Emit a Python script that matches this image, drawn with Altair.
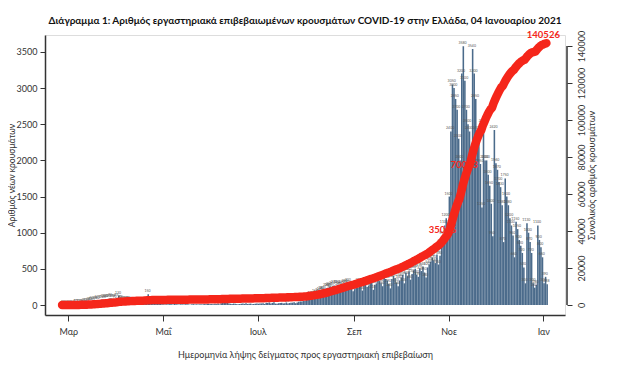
import altair as alt
import pandas as pd

# ---------------- data (daily new confirmed cases by sample date) ----------------
start_date = "2020-02-26"
feb = [1, 2, 0, 4]
mar = [2, 2, 1, 3, 8, 12, 10, 14, 16, 20, 25, 22, 30, 38, 42, 50, 45, 58, 65, 62,
       70, 75, 78, 66, 80, 82, 90, 95, 85, 78, 72]
apr = [95, 130, 70, 65, 60, 55, 50, 62, 55, 48, 40, 38, 30, 35, 40, 30, 28, 25, 22, 20,
       150, 35, 30, 25, 20, 18, 15, 18, 14, 12]
may = [10, 8, 12, 9, 14, 11, 7, 15, 10, 8, 6, 12, 9, 7, 11, 10, 8, 5, 9, 12,
       8, 10, 6, 9, 11, 7, 14, 10, 13, 16, 12]
jun = [15, 10, 18, 12, 20, 8, 25, 30, 35, 40, 28, 22, 18, 15, 20, 17, 12, 10, 15, 18,
       22, 16, 25, 15, 17, 20, 12, 14, 18, 22]
jul = [18, 20, 22, 25, 15, 30, 28, 35, 22, 30, 40, 20, 18, 25, 28, 30, 22, 25, 35, 20,
       28, 30, 33, 40, 25, 35, 45, 50, 48, 55, 60]
aug = [70, 85, 110, 120, 95, 130, 150, 140, 160, 175, 190, 200, 150, 230, 240, 255, 220, 260, 270, 180,
       280, 250, 260, 275, 200, 290, 280, 300, 250, 240, 190]
sep = [220, 260, 240, 300, 280, 200, 310, 290, 250, 270, 330, 310, 210, 280, 300, 350, 330, 300, 260, 380,
       360, 340, 290, 230, 360, 400, 370, 310, 260, 340]
oct_ = [380, 420, 300, 450, 400, 460, 350, 430, 480, 500, 420, 390, 510, 470, 530, 450, 380, 520, 560, 600,
        650, 620, 580, 700, 560, 680, 850, 950, 1100, 1200, 1000]
nov = [1500, 2400, 3050, 3000, 2850, 2700, 2300, 2000, 3200, 3580, 3100, 2700, 2500, 2400, 1900, 3540, 3200, 2850, 2400, 2300,
       1950, 1350, 2500, 2000, 2000, 1800, 1650, 1400, 950, 2420]
dec = [1960, 1870, 1700, 1630, 1380, 870, 1750, 1500, 1380, 1200, 1100, 960, 660, 1150, 1050, 900, 820, 720, 520, 300,
       1130, 1000, 870, 720, 300, 240, 280, 1100, 900, 800, 660]
jan = [300, 390, 288]

# annotations on the cumulative curve
ann_dates = ["2020-10-30", "2020-11-13", "2021-01-03"]
ann_values = [35046, 70003, 140526]
ann_labels = ["35046", "70003", "140526"]

x_ticks = [(2020, 3), (2020, 5), (2020, 7), (2020, 9), (2020, 11), (2021, 1)]
month_names = ["Ιαν", "Φεβ", "Μαρ", "Απρ", "Μαΐ", "Ιουν", "Ιουλ", "Αυγ", "Σεπ", "Οκτ", "Νοε", "Δεκ"]
left_ticks = [0, 500, 1000, 1500, 2000, 2500, 3000, 3500]
right_ticks = [0, 20000, 40000, 60000, 80000, 100000, 120000, 140000]

cases = feb + mar + apr + may + jun + jul + aug + sep + oct_ + nov + dec + jan
dates = pd.date_range(start_date, periods=len(cases), freq="D")
df = pd.DataFrame({
    "date": dates.strftime("%Y-%m-%d"),
    "date_end": (dates + pd.Timedelta(days=1)).strftime("%Y-%m-%d"),
    "cases": cases,
})
df["cum"] = df["cases"].cumsum()
ann = pd.DataFrame({"date": ann_dates, "value": ann_values, "label": ann_labels})
axis_span = pd.DataFrame({"lo": [right_ticks[0]], "hi": [right_ticks[-1]]})

FONT = "Lato"
BAR = "#4b6b8b"
RED = "#f5261a"
AX = "#333333"

W, H = 520, 280

x_scale = alt.Scale(domain=[alt.DateTime(year=2020, month=2, date=15),
                            alt.DateTime(year=2021, month=1, date=15)])
x_axis = alt.Axis(
    values=[alt.DateTime(year=y, month=m, date=1) for y, m in x_ticks],
    labelExpr="%s[month(datum.value)]" % str(month_names),
    title="Ημερομηνία λήψης δείγματος προς εργαστηριακή επιβεβαίωση",
    titleFontWeight="normal", titleFontSize=9, titleColor=AX, titlePadding=14,
    labelFontSize=9, labelColor=AX, labelPadding=6, labelFlush=False,
    tickSize=6, tickColor=AX, domainColor=AX, domainWidth=1.5, grid=False,
)

y_left = alt.Y(
    "cases:Q",
    scale=alt.Scale(domain=[-138, 3734], nice=False, zero=False),
    axis=alt.Axis(values=left_ticks, format="d", title="Αριθμός νέων κρουσμάτων", grid=False,
                  titleFontWeight="normal", titleFontSize=8.5, titleColor=AX, titlePadding=0,
                  labelFontSize=9, labelColor=AX, labelPadding=3, tickSize=5, tickColor=AX,
                  domainColor=AX, domainWidth=1.5),
)

bars = alt.Chart(df).mark_bar(color=BAR).encode(
    x=alt.X("date:T", scale=x_scale, axis=x_axis),
    x2="date_end:T",
    y=y_left,
    y2=alt.datum(0),
)
bar_labels = alt.Chart(df).mark_text(fontSize=3.5, color="#555555", dy=-3, font=FONT).encode(
    x=alt.X("date:T", scale=x_scale, axis=x_axis),
    y=y_left,
    text="cases:Q",
)
left = alt.layer(bars, bar_labels)

r_scale = alt.Scale(domain=[-5405, 145946], nice=False, zero=False)
r_axis = alt.Axis(orient="right", values=right_ticks, format="d", title="Συνολικός αριθμός κρουσμάτων",
                  grid=False, domain=False, titleFontWeight="normal", titleFontSize=9,
                  titleColor=AX, titlePadding=10, titleAngle=270, labelFontSize=9, labelColor=AX,
                  labelAngle=270, labelAlign="center", labelBaseline="top", labelPadding=5,
                  tickSize=5, tickColor=AX, offset=2)

line = alt.Chart(df).mark_line(color=RED, strokeWidth=8.5, strokeCap="round", strokeJoin="round").encode(
    x=alt.X("date:T", scale=x_scale, axis=x_axis),
    y=alt.Y("cum:Q", scale=r_scale, axis=r_axis),
)
ann_text = alt.Chart(ann).mark_text(color=RED, fontSize=9.5, fontWeight="bold", font=FONT,
                                    dy=-10, dx=-3).encode(
    x=alt.X("date:T", scale=x_scale, axis=x_axis),
    y=alt.Y("value:Q", scale=r_scale, axis=r_axis),
    text="label:N",
)
r_rule = alt.Chart(axis_span).mark_rule(color=AX, strokeWidth=1.5).encode(
    x=alt.value(W + 2),
    y=alt.Y("lo:Q", scale=r_scale, axis=r_axis),
    y2="hi:Q",
)
right = alt.layer(line, ann_text, r_rule)

chart = alt.layer(left, right).resolve_scale(y="independent").properties(
    width=W, height=H,
    title=alt.TitleParams(
        "Διάγραμμα 1: Αριθμός εργαστηριακά επιβεβαιωμένων κρουσμάτων COVID-19 στην Ελλάδα, 04 Ιανουαρίου 2021",
        anchor="middle", frame="group", fontSize=10, fontWeight="bold", font=FONT,
        color="#111111"),
    autosize=alt.AutoSizeParams(type="none"),
    padding={"left": 37, "top": 27, "right": 55, "bottom": 45},
).configure_view(stroke=None).configure(font=FONT)

chart.save("out.html", embed_options={"renderer": "svg", "actions": False})
